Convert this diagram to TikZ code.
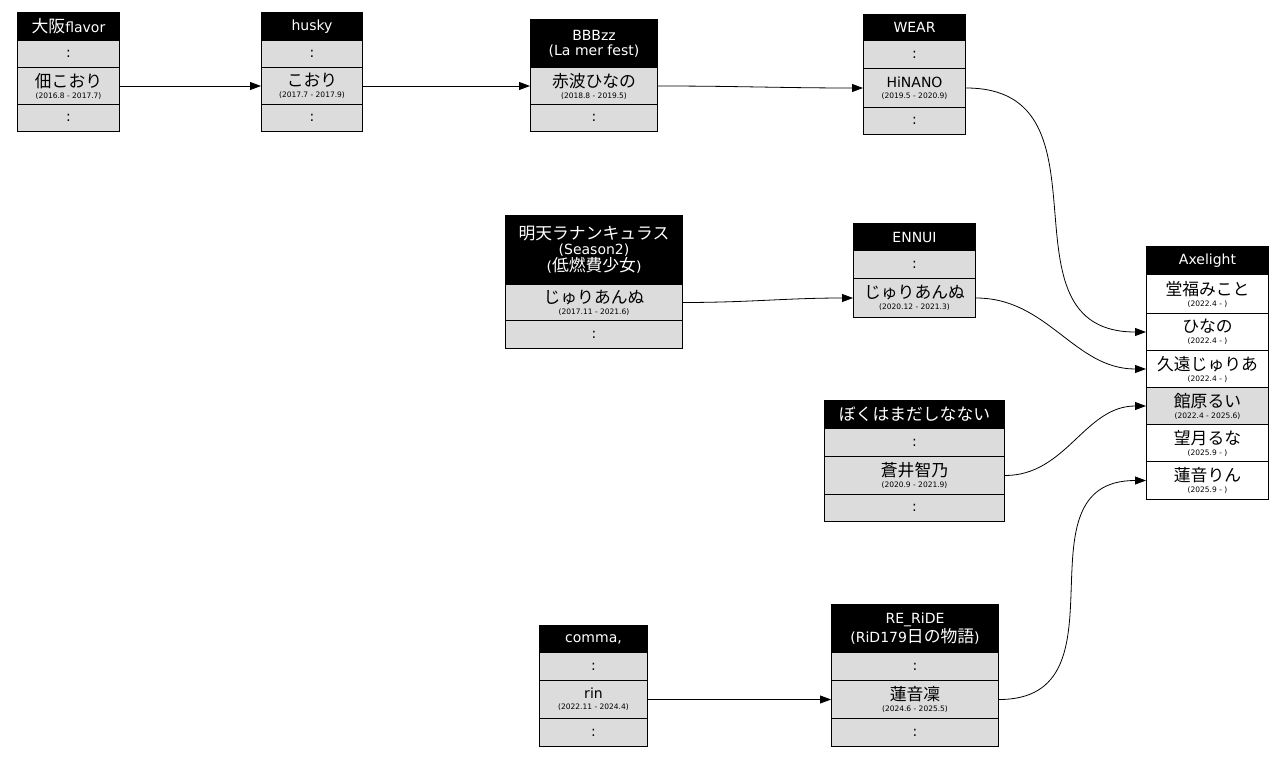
\documentclass[tikz,border=0pt]{standalone}
\usepackage{fontspec}
\setmainfont{DejaVu Sans}
\newfontfamily\cjk[Scale=1.2]{Noto Sans CJK JP}
\usetikzlibrary{arrows.meta}
\definecolor{cellgray}{HTML}{DCDCDC}
\newcommand\jp[1]{{\cjk #1}}
\newcommand\dt[1]{\\[-4pt]{\fontsize{7.5}{8}\selectfont(#1)}}
\tikzstyle{base} = [draw, line width=1pt, anchor=north west, inner sep=0pt,
    align=center, font=\fontsize{14}{15}\selectfont]
\tikzstyle{head} = [base, fill=black, text=white]
\tikzstyle{cell} = [base, fill=cellgray]
\tikzstyle{wcell} = [base, fill=white]
\tikzstyle{line} = [draw, line width=0.8pt, -{Triangle[length=11pt,width=8pt]}]

\begin{document}
\begin{tikzpicture}[x=1pt, y=-1pt]
    \useasboundingbox (0,0) rectangle (1284,757);
    % Place nodes
    \node [head, minimum width=102, minimum height=28] (osaka) at (17,12) {\jp{大阪}flavor};
    \node [cell, minimum width=102, minimum height=27] (osaka1) at (17,40) {:};
    \node [cell, minimum width=102, minimum height=37] (osaka2) at (17,67) {\jp{佃こおり}\dt{2016.8 - 2017.7}};
    \node [cell, minimum width=102, minimum height=27] (osaka3) at (17,104) {:};

    \node [head, minimum width=101, minimum height=28] (husky) at (261,12) {husky};
    \node [cell, minimum width=101, minimum height=27] (husky1) at (261,40) {:};
    \node [cell, minimum width=101, minimum height=37] (husky2) at (261,67) {\jp{こおり}\dt{2017.7 - 2017.9}};
    \node [cell, minimum width=101, minimum height=27] (husky3) at (261,104) {:};

    \node [head, minimum width=127, minimum height=48] (bbb) at (530,19) {BBBzz\\(La mer fest)};
    \node [cell, minimum width=127, minimum height=37] (bbb1) at (530,67) {\jp{赤波ひなの}\dt{2018.8 - 2019.5}};
    \node [cell, minimum width=127, minimum height=27] (bbb2) at (530,104) {:};

    \node [head, minimum width=102, minimum height=26] (wear) at (863,14) {WEAR};
    \node [cell, minimum width=102, minimum height=28] (wear1) at (863,40) {:};
    \node [cell, minimum width=102, minimum height=39] (wear2) at (863,68) {HiNANO\dt{2019.5 - 2020.9}};
    \node [cell, minimum width=102, minimum height=27] (wear3) at (863,107) {:};

    \node [head, minimum width=177, minimum height=69] (ranun) at (505,215) {\jp{明天ラナンキュラス}\\(Season2)\\(\jp{低燃費少女})};
    \node [cell, minimum width=177, minimum height=36] (ranun1) at (505,284) {\jp{じゅりあんぬ}\dt{2017.11 - 2021.6}};
    \node [cell, minimum width=177, minimum height=28] (ranun2) at (505,320) {:};

    \node [head, minimum width=122, minimum height=27] (ennui) at (853,223) {ENNUI};
    \node [cell, minimum width=122, minimum height=28] (ennui1) at (853,250) {:};
    \node [cell, minimum width=122, minimum height=39] (ennui2) at (853,278) {\jp{じゅりあんぬ}\dt{2020.12 - 2021.3}};

    \node [head, minimum width=180, minimum height=28] (boku) at (824,400) {\jp{ぼくはまだしなない}};
    \node [cell, minimum width=180, minimum height=28] (boku1) at (824,428) {:};
    \node [cell, minimum width=180, minimum height=38] (boku2) at (824,456) {\jp{蒼井智乃}\dt{2020.9 - 2021.9}};
    \node [cell, minimum width=180, minimum height=27] (boku3) at (824,494) {:};

    \node [head, minimum width=108, minimum height=27] (comma) at (539,625) {comma,};
    \node [cell, minimum width=108, minimum height=28] (comma1) at (539,652) {:};
    \node [cell, minimum width=108, minimum height=38] (comma2) at (539,680) {rin\dt{2022.11 - 2024.4}};
    \node [cell, minimum width=108, minimum height=28] (comma3) at (539,718) {:};

    \node [head, minimum width=167, minimum height=48] (ride) at (831,604) {RE\_RiDE\\(RiD179\jp{日の物語})};
    \node [cell, minimum width=167, minimum height=28] (ride1) at (831,652) {:};
    \node [cell, minimum width=167, minimum height=38] (ride2) at (831,680) {\jp{蓮音凜}\dt{2024.6 - 2025.5}};
    \node [cell, minimum width=167, minimum height=28] (ride3) at (831,718) {:};

    \node [head, minimum width=122, minimum height=28] (axe) at (1146,246) {Axelight};
    \node [wcell, minimum width=122, minimum height=39] (axe1) at (1146,274) {\jp{堂福みこと}\dt{2022.4 - }};
    \node [wcell, minimum width=122, minimum height=37] (axe2) at (1146,313) {\jp{ひなの}\dt{2022.4 - }};
    \node [wcell, minimum width=122, minimum height=37] (axe3) at (1146,350) {\jp{久遠じゅりあ}\dt{2022.4 - }};
    \node [cell, minimum width=122, minimum height=37] (axe4) at (1146,387) {\jp{館原るい}\dt{2022.4 - 2025.6}};
    \node [wcell, minimum width=122, minimum height=37] (axe5) at (1146,424) {\jp{望月るな}\dt{2025.9 - }};
    \node [wcell, minimum width=122, minimum height=38] (axe6) at (1146,461) {\jp{蓮音りん}\dt{2025.9 - }};
    % Draw edges
    \path [line] (osaka2) -- (husky2);
    \path [line] (husky2) -- (bbb1);
    \path [line] (bbb1.east) to[out=0, in=180] (wear2.west);
    \path [line] (wear2.east) to[out=0, in=180, looseness=1.3] (axe2.west);
    \path [line] (ranun1.east) to[out=0, in=180] (ennui2.west);
    \path [line] (ennui2.east) to[out=0, in=180] (axe3.west);
    \path [line] (boku2.east) to[out=0, in=180] (axe4.west);
    \path [line] (comma2) -- (ride2);
    \path [line] (ride2.east) to[out=0, in=180, looseness=1.3] (axe6.west);
\end{tikzpicture}
\end{document}
